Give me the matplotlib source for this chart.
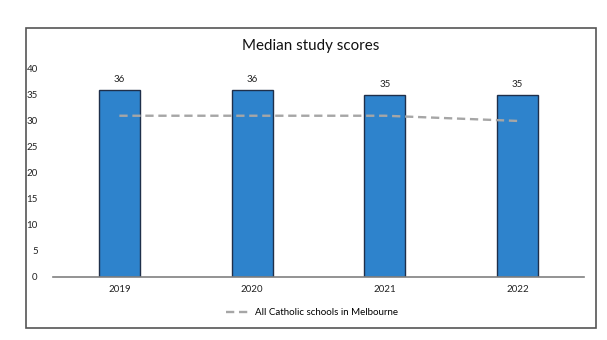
import matplotlib.pyplot as plt
from matplotlib.patches import Rectangle

# Median study scores by year, with the all-schools median as a reference line
years = ["2019", "2020", "2021", "2022"]
school_median = [36, 36, 35, 35]
catholic_median = [31, 31, 31, 30]
y_ticks = [0, 5, 10, 15, 20, 25, 30, 35, 40]

plt.rcParams["font.family"] = ["Lato", "DejaVu Sans"]

fig = plt.figure(figsize=(6.07, 3.4), dpi=100)
ax = fig.add_axes([53 / 607, 1 - 276.7 / 340, 531 / 607, 207.7 / 340])

x = range(len(years))
bars = ax.bar(x, school_median, width=0.31, color="#2E83CC",
              edgecolor="#1F2F4A", linewidth=1.0, zorder=2)
ax.plot(x, catholic_median, color="#A6A6A6", linewidth=1.7,
        dashes=(3.5, 2), zorder=3, label="All Catholic schools in Melbourne")

for b, v in zip(bars, school_median):
    ax.annotate(str(v), (b.get_x() + b.get_width() / 2, v),
                xytext=(0, 4), textcoords="offset points",
                ha="center", va="bottom", fontsize=7, color="#222222")

ax.set_xlim(-0.5, 3.5)
ax.set_ylim(0, 40)
ax.set_xticks(list(x))
ax.set_xticklabels(years)
ax.set_yticks(y_ticks)
ax.tick_params(axis="both", length=0, labelsize=7, colors="#222222")
ax.tick_params(axis="y", pad=11)
ax.tick_params(axis="x", pad=6)
for s in ["top", "right", "left"]:
    ax.spines[s].set_visible(False)
ax.spines["bottom"].set_color("#808080")
ax.spines["bottom"].set_linewidth(1.2)

fig.text(311 / 607, 1 - 46 / 340, "Median study scores", ha="center",
         va="center", fontsize=10.9, color="#111111")

fig.legend(loc="center", bbox_to_anchor=(312 / 607, 1 - 312.7 / 340),
           frameon=False, fontsize=7, handlelength=2.6, handletextpad=0.4)

# outer frame around the whole chart
fig.patches.append(Rectangle((25.5 / 607, 1 - 328 / 340), 570.5 / 607,
                             300 / 340, transform=fig.transFigure,
                             fill=False, edgecolor="#555555", linewidth=1.2))

fig.savefig("out.png", dpi=100)
